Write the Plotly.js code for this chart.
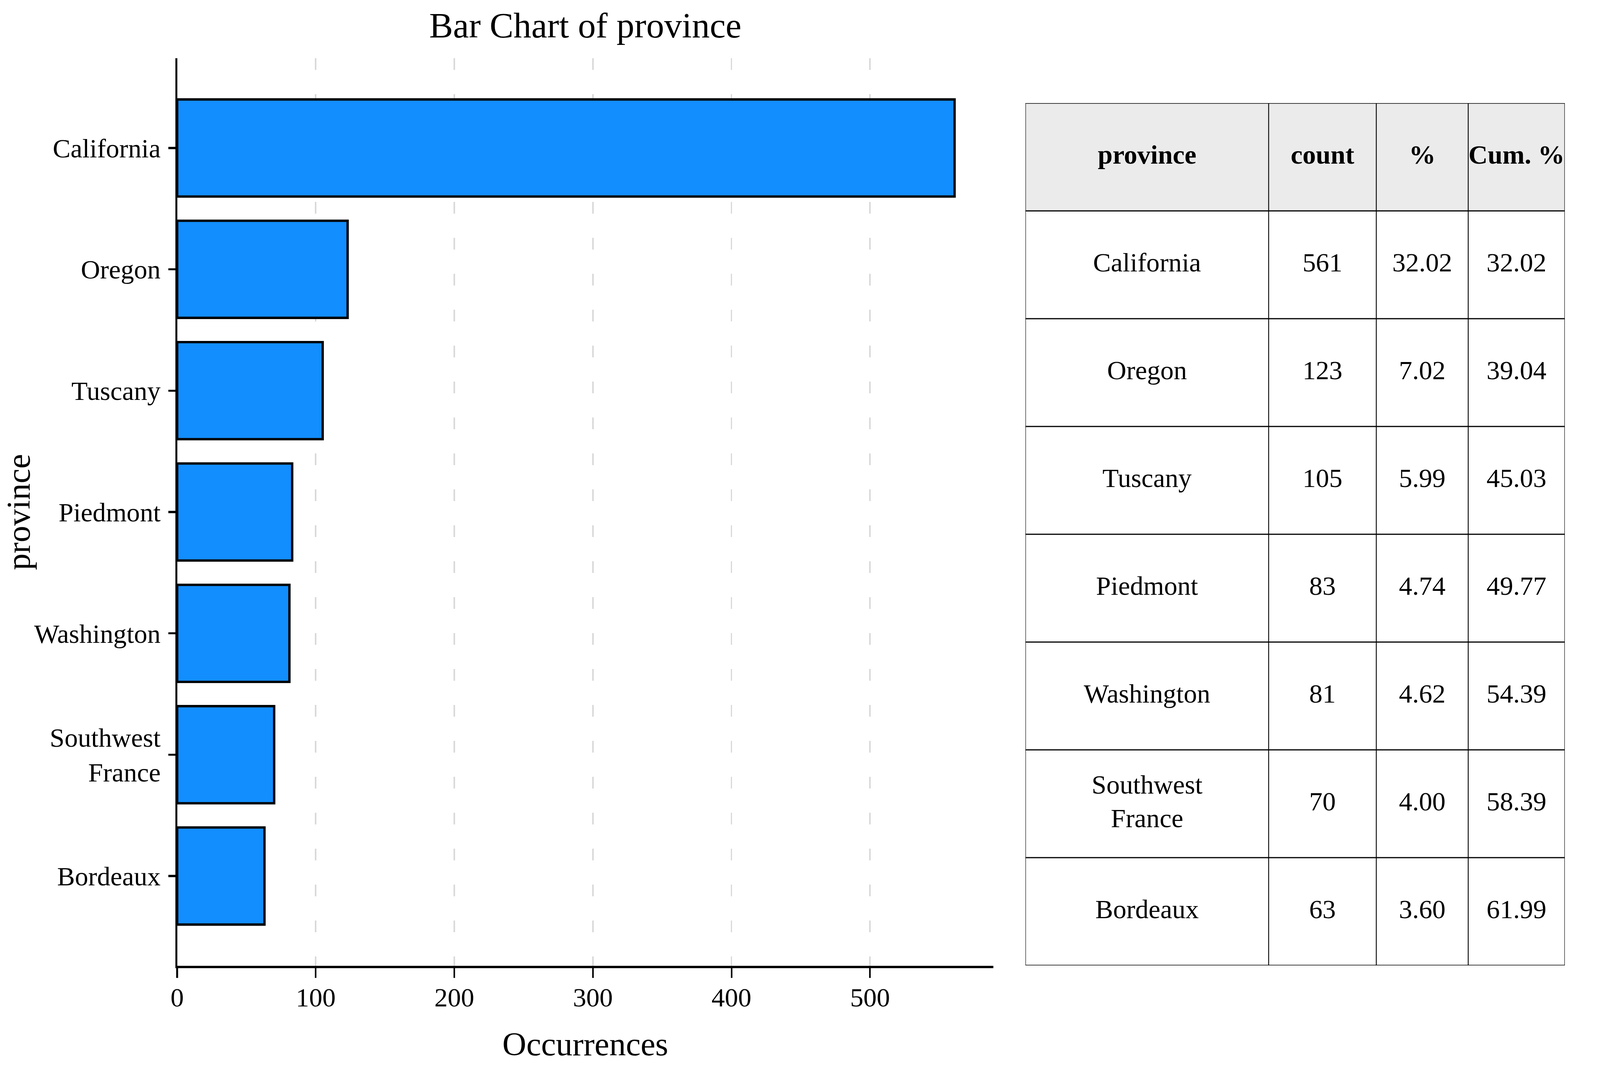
<!DOCTYPE html>
<html><head><meta charset="utf-8">
<script src="https://cdn.plot.ly/plotly-3.0.1.min.js"></script>
<style>html,body{margin:0;padding:0;background:#fff;overflow:hidden}</style>
</head><body>
<div id="chart"></div>
<script>
// ---- data ----
const provinces = ["California","Oregon","Tuscany","Piedmont","Washington","Southwest\nFrance","Bordeaux"];
const counts = [561,123,105,83,81,70,63];
const percents = [32.02,7.02,5.99,4.74,4.62,4.00,3.60];
const cumPercents = [32.02,39.04,45.03,49.77,54.39,58.39,61.99];
const tableHeaders = ["province","count","%","Cum. %"];
const xTickVals = [0,100,200,300,400,500];

// ---- layout constants (designed on a 5500 x 2750 canvas, fitted to the window) ----
const BW = 5500, BH = 2750;
const W = document.documentElement.clientWidth || window.innerWidth || BW;
const H = document.documentElement.clientHeight || window.innerHeight || BH;
const sx = W / BW, sy = H / BH;
const sf = Math.pow(sx, 0.75) * Math.pow(sy, 0.25);   // font scale
const sl = Math.sqrt(sx * sy);                         // line-width scale
const FONT = "Liberation Serif, 'Times New Roman', serif";
const colWidths = [836, 370, 316, 332];
const labels = provinces.map(p => p.replace("\n", "<br>"));

// table helpers
const totalW = colWidths.reduce((a,b)=>a+b,0);
const colEdges = [0];
colWidths.forEach(w => colEdges.push(colEdges[colEdges.length-1] + w));
const colCenters = colWidths.map((w,i) => colEdges[i] + w/2);
const nRows = provinces.length + 1;
const rowPx = (2472 - 264) / nRows;
const lineStep = 86 / rowPx; // line spacing inside a cell, in row units

const tx = [], ty = [], tt = [];
function addCell(text, c, rowCenter) {
  const lines = text.split("\n");
  lines.forEach((ln, i) => {
    tx.push(colCenters[c]);
    ty.push(rowCenter + (i - (lines.length - 1) / 2) * lineStep);
    tt.push(ln);
  });
}
tableHeaders.forEach((h,c) => addCell("<b>" + h + "</b>", c, 0.5));
provinces.forEach((p,r) => {
  const row = [p, String(counts[r]), percents[r].toFixed(2), cumPercents[r].toFixed(2)];
  row.forEach((v,c) => addCell(v, c, r + 1.5));
});

const shapes = [];
shapes.push({type:'rect', xref:'x2', yref:'y2', x0:0, x1:totalW, y0:0, y1:1,
  fillcolor:'#ebebeb', line:{width:0}, layer:'below'});
colEdges.forEach(x => shapes.push({type:'line', xref:'x2', yref:'y2', x0:x, x1:x, y0:0, y1:nRows,
  line:{color:'black', width:3 * sx}}));
for (let r = 0; r <= nRows; r++) {
  shapes.push({type:'line', xref:'x2', yref:'y2', x0:0, x1:totalW, y0:r, y1:r,
    line:{color:'black', width:3 * sy}});
}

const traces = [
  {
    type:'bar', orientation:'h', x: counts, y: labels, width: 0.8,
    marker:{color:'#128eff', line:{color:'black', width:7 * sl}},
    xaxis:'x', yaxis:'y', hoverinfo:'x+y'
  },
  {
    type:'scatter', mode:'text', x: tx, y: ty, text: tt,
    textposition:'middle center',
    textfont:{family:FONT, size:85 * sf, color:'black'},
    xaxis:'x2', yaxis:'y2', hoverinfo:'skip', cliponaxis:false
  }
];

const layout = {
  width: W, height: H, autosize:false,
  margin:{l:0, r:0, t:0, b:0, pad:0},
  paper_bgcolor:'white', plot_bgcolor:'white',
  showlegend:false,
  font:{family:FONT, color:'black'},
  title:{text:'Bar Chart of province', x: 2012/BW, xref:'paper', xanchor:'center',
         y: 1 - 64/BH, yref:'paper', yanchor:'middle', font:{family:FONT, size:114 * sf, color:'black'}},
  xaxis:{
    domain:[609/BW, 3415/BW], anchor:'y', range:[0, 589.05],
    tickmode:'array', tickvals:xTickVals,
    ticks:'outside', ticklen:25 * sy, tickwidth:5.5 * sx, tickcolor:'black',
    showline:true, linewidth:5.5 * sy, linecolor:'black',
    showgrid:true, gridcolor:'#d9d9d9', gridwidth:5 * sx, griddash: (30 * sy) + 'px,' + (62 * sy) + 'px',
    zeroline:false,
    ticklabelstandoff: Math.round(-8 * sy),
    tickfont:{family:FONT, size:85 * sf, color:'black'},
    title:{text:'Occurrences', font:{family:FONT, size:106 * sf, color:'black'}, standoff:53 * sy},
    automargin:false
  },
  yaxis:{
    domain:[1 - 2473/BH, 1 - 149/BH], anchor:'x',
    type:'category', categoryarray: labels, range:[6.74, -0.74],
    ticks:'outside', ticklen:25 * sx, tickwidth:5.5 * sy, tickcolor:'black',
    showline:true, linewidth:5.5 * sx, linecolor:'black',
    showgrid:false, zeroline:false,
    ticklabelstandoff: Math.round(8 * sx),
    tickfont:{family:FONT, size:85 * sf, color:'black'},
    title:{text:'province', font:{family:FONT, size:106 * sf, color:'black'}, standoff:0},
    automargin:false
  },
  xaxis2:{domain:[3525/BW, 5379/BW], anchor:'y2', range:[0, totalW], visible:false, fixedrange:true},
  yaxis2:{domain:[1 - 2472/BH, 1 - 264/BH], anchor:'x2', range:[nRows, 0], visible:false, fixedrange:true},
  shapes: shapes
};

document.getElementById('chart').style.width = W + 'px';
document.getElementById('chart').style.height = H + 'px';
Plotly.newPlot('chart', traces, layout, {displayModeBar:false, staticPlot:true});
</script>
</body></html>
